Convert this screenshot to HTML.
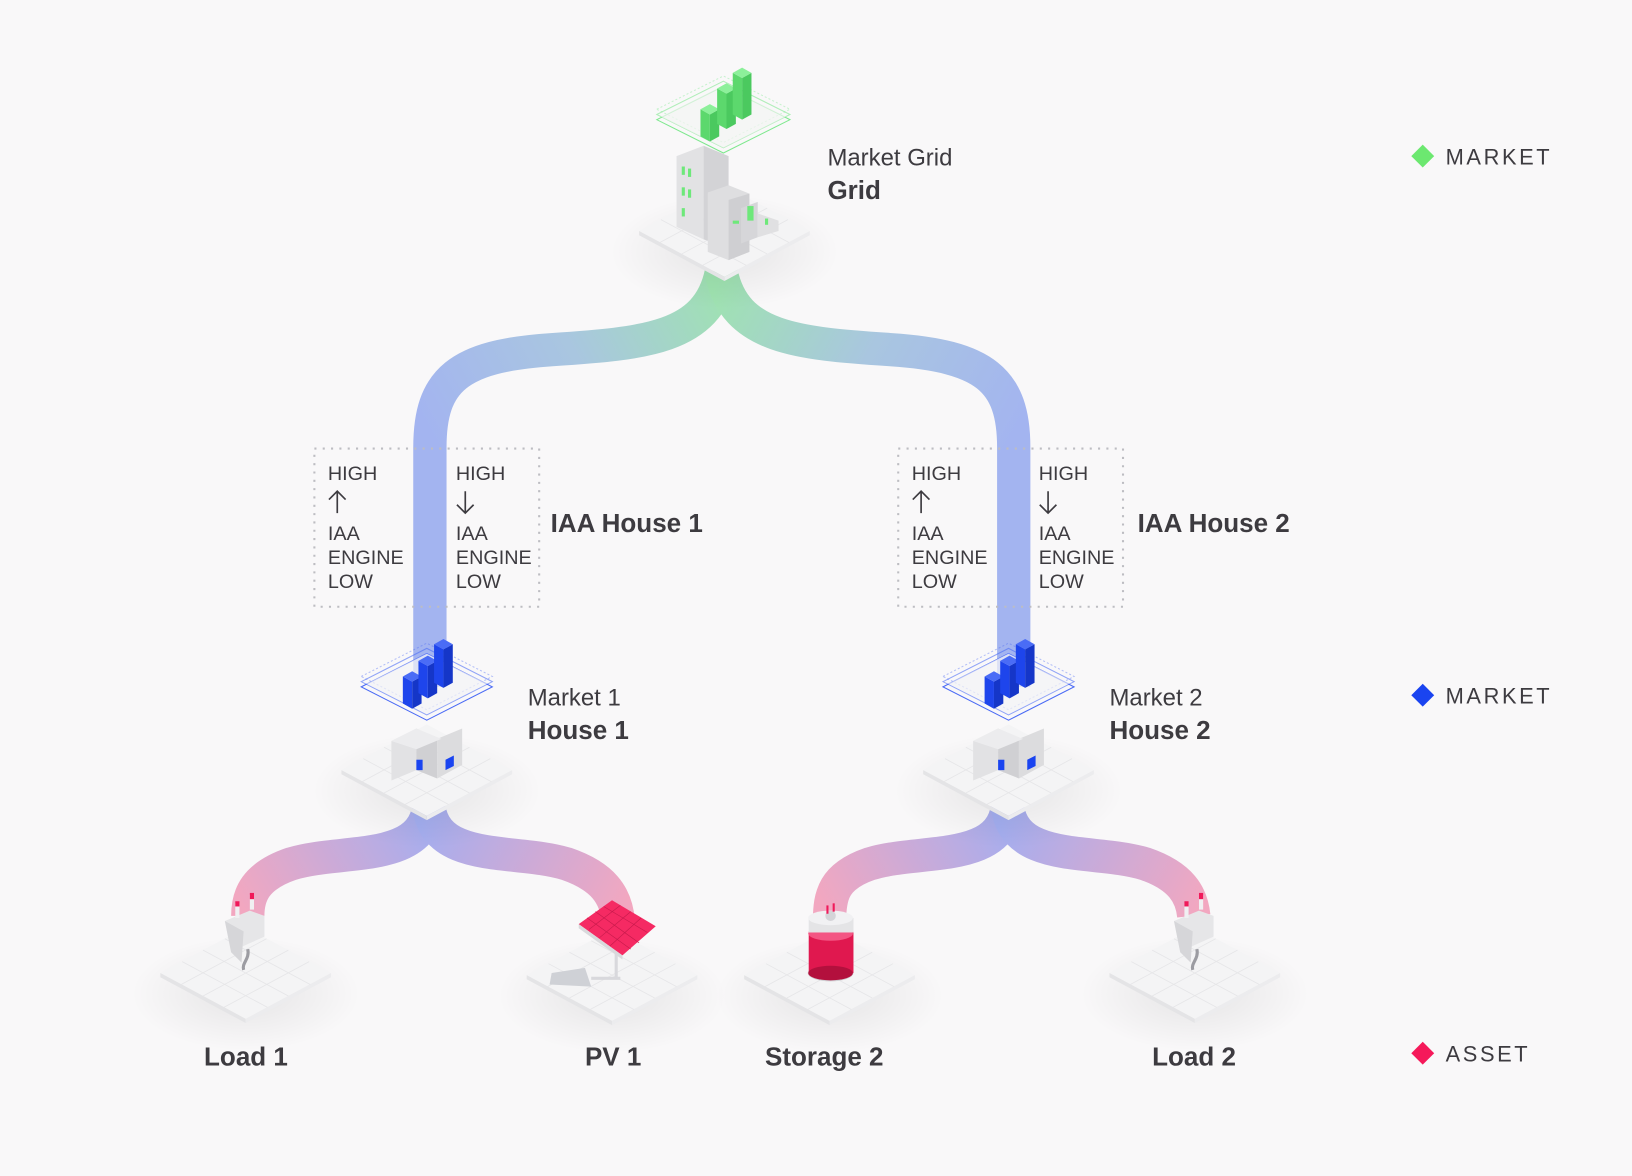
<!DOCTYPE html>
<html><head><meta charset="utf-8"><style>
html,body{margin:0;padding:0;background:#f9f8f9;}
svg{display:block;}
text{font-family:"Liberation Sans",sans-serif;fill:#3d3b40;}
</style></head><body>
<svg width="1632" height="1176" viewBox="0 0 1568 1130" xmlns="http://www.w3.org/2000/svg">
<defs>
<linearGradient id="gL" gradientUnits="userSpaceOnUse" x1="693" y1="265" x2="413" y2="420"><stop offset="0" stop-color="#9fe3b0"/><stop offset="0.5" stop-color="#a9c6e0"/><stop offset="1" stop-color="#a3b4f0"/></linearGradient>
<linearGradient id="gR" gradientUnits="userSpaceOnUse" x1="693" y1="265" x2="975" y2="420"><stop offset="0" stop-color="#9fe3b0"/><stop offset="0.5" stop-color="#a9c6e0"/><stop offset="1" stop-color="#a3b4f0"/></linearGradient>
<linearGradient id="a1" gradientUnits="userSpaceOnUse" x1="410" y1="780" x2="238" y2="880"><stop offset="0" stop-color="#a3aef0"/><stop offset="1" stop-color="#f2a7c0"/></linearGradient>
<linearGradient id="a2" gradientUnits="userSpaceOnUse" x1="410" y1="780" x2="595" y2="880"><stop offset="0" stop-color="#a3aef0"/><stop offset="1" stop-color="#f2a7c0"/></linearGradient>
<linearGradient id="a3" gradientUnits="userSpaceOnUse" x1="968" y1="780" x2="797" y2="880"><stop offset="0" stop-color="#a3aef0"/><stop offset="1" stop-color="#f2a7c0"/></linearGradient>
<linearGradient id="a4" gradientUnits="userSpaceOnUse" x1="968" y1="780" x2="1148" y2="880"><stop offset="0" stop-color="#a3aef0"/><stop offset="1" stop-color="#f2a7c0"/></linearGradient>
<radialGradient id="sh"><stop offset="0" stop-color="#000" stop-opacity="0.08"/><stop offset="1" stop-color="#000" stop-opacity="0"/></radialGradient>
<g id="plat">
 <ellipse cx="0" cy="20" rx="110" ry="55" fill="url(#sh)"/>
 <polygon points="-82,0 0,-44 82,0 0,44" fill="#f4f4f5"/>
 <polygon points="-82,0 0,44 0,48 -82,4" fill="#e4e4e6"/>
 <polygon points="82,0 0,44 0,48 82,4" fill="#ececee"/>
 <g stroke="#e6e6e8" stroke-width="0.8">
  <line x1="-61" y1="-11" x2="21" y2="33"/><line x1="-41" y1="-22" x2="41" y2="22"/><line x1="-20" y1="-33" x2="62" y2="11"/>
  <line x1="61" y1="-11" x2="-21" y2="33"/><line x1="41" y1="-22" x2="-41" y2="22"/><line x1="20" y1="-33" x2="-62" y2="11"/>
 </g>
</g>
</defs>
<rect width="1568" height="1130" fill="#f9f8f9"/>

<g fill="none" stroke-width="32">
 <path d="M693,262 C680,325 620,330 530,336 C440,342 413,365 413,430 L413,660" stroke="url(#gL)"/>
 <path d="M693,262 C706,325 766,330 856,336 C946,342 974,365 974,430 L974,660" stroke="url(#gR)"/>
</g>
<g fill="none" stroke-width="32">
 <path d="M412,775 C405,830 330,815 280,830 C245,842 238,860 238,880" stroke="url(#a1)"/>
 <path d="M412,775 C419,830 494,815 544,830 C579,842 592,860 594,885" stroke="url(#a2)"/>
 <path d="M968,775 C961,830 886,815 836,830 C801,842 797,860 797,885" stroke="url(#a3)"/>
 <path d="M968,775 C975,830 1050,815 1100,830 C1135,842 1145,860 1147,880" stroke="url(#a4)"/>
</g>

<use href="#plat" x="696" y="222"/>
<g>
 <polygon points="650,150 676,140 676,230 650,218" fill="#e2e2e4"/>
 <polygon points="676,140 700,150 700,238 676,230" fill="#d3d3d6"/>
 <polygon points="680,185 700,178 720,186 720,242 700,250 680,242" fill="#dedee0"/>
 <polygon points="700,192 720,186 720,242 700,250" fill="#cfcfd2"/>
 <polygon points="712,200 728,194 728,228 712,234" fill="#d6d6d9"/>
 <polygon points="728,205 748,212 748,222 728,228" fill="#e0e0e2"/>
 <g fill="#6ee87a"><rect x="655" y="160" width="3" height="8"/><rect x="661" y="162" width="3" height="8"/><rect x="655" y="180" width="3" height="8"/><rect x="661" y="182" width="3" height="8"/><rect x="655" y="200" width="3" height="8"/><rect x="718" y="198" width="6" height="14"/><rect x="704" y="212" width="6" height="3"/><rect x="735" y="210" width="3" height="6"/></g>
</g>
<g fill="none" stroke="#7ee88e" stroke-width="1">
 <polygon points="631,115 695,83 759,115 695,147"/>
 <polygon points="631,110 695,78 759,110 695,142" stroke-opacity="0.6"/>
 <polygon points="631,105 695,73 759,105 695,137" stroke-opacity="0.4" stroke-dasharray="2 2"/>
</g>
<polygon points="635,112 695,82 755,112 695,142" fill="#f4f5f4" opacity="0.7"/>
<g>
 <polygon points="673,105 682,110 682,136 673,131" fill="#5cd86d"/><polygon points="682,110 691,105 691,131 682,136" fill="#4bc95f"/><polygon points="673,105 682,100 691,105 682,110" fill="#8cf09a"/>
 <polygon points="689,85 698,90 698,124 689,119" fill="#5cd86d"/><polygon points="698,90 707,85 707,119 698,124" fill="#4bc95f"/><polygon points="689,85 698,80 707,85 698,90" fill="#8cf09a"/>
 <polygon points="704,70 713,75 713,115 704,110" fill="#5cd86d"/><polygon points="713,75 722,70 722,110 713,115" fill="#4bc95f"/><polygon points="704,70 713,65 722,70 713,75" fill="#8cf09a"/>
</g>
<text x="795" y="159" font-size="23">Market Grid</text>
<text x="795" y="191" font-size="25" font-weight="bold">Grid</text>

<g fill="none" stroke="#bdbdc2" stroke-width="2" stroke-dasharray="2 6">
 <rect x="302" y="431" width="216" height="152"/>
 <rect x="863" y="431" width="216" height="152"/>
</g>
<g font-size="19">
 <text x="315" y="461">HIGH</text><text x="315" y="519">IAA</text><text x="315" y="542">ENGINE</text><text x="315" y="565">LOW</text>
 <text x="438" y="461">HIGH</text><text x="438" y="519">IAA</text><text x="438" y="542">ENGINE</text><text x="438" y="565">LOW</text>
 <text x="876" y="461">HIGH</text><text x="876" y="519">IAA</text><text x="876" y="542">ENGINE</text><text x="876" y="565">LOW</text>
 <text x="998" y="461">HIGH</text><text x="998" y="519">IAA</text><text x="998" y="542">ENGINE</text><text x="998" y="565">LOW</text>
</g>
<g stroke="#3d3b40" stroke-width="1.6" fill="none">
 <path d="M324,493 V472 M316,480 L324,472 L332,480"/>
 <path d="M447,472 V493 M439,485 L447,493 L455,485"/>
 <path d="M885,493 V472 M877,480 L885,472 L893,480"/>
 <path d="M1007,472 V493 M999,485 L1007,493 L1015,485"/>
</g>
<text x="529" y="511" font-size="25" font-weight="bold">IAA House 1</text>
<text x="1093" y="511" font-size="25" font-weight="bold">IAA House 2</text>

<g id="house1">
 <use href="#plat" x="410" y="740"/>
 <polygon points="376,712 400,700 400,740 376,750" fill="#e2e2e4"/>
 <polygon points="400,700 420,710 420,748 400,740" fill="#d0d0d3"/>
 <polygon points="420,710 444,700 444,735 420,748" fill="#dcdcde"/>
 <polygon points="376,712 400,700 424,710 400,720" fill="#ececee"/>
 <rect x="400" y="730" width="6" height="10" fill="#1a44f0"/>
 <polygon points="428,730 436,726 436,736 428,740" fill="#1a44f0"/>
 <g fill="none" stroke="#4a6af5" stroke-width="1">
  <polygon points="347,660 410,628 473,660 410,692"/>
  <polygon points="347,655 410,623 473,655 410,687" stroke-opacity="0.6"/>
  <polygon points="347,650 410,618 473,650 410,682" stroke-opacity="0.4" stroke-dasharray="2 2"/>
 </g>
 <polygon points="352,657 410,628 468,657 410,686" fill="#f4f4f7" opacity="0.7"/>
 <polygon points="387,650 396,655 396,681 387,676" fill="#1e45ec"/><polygon points="396,655 405,650 405,676 396,681" fill="#1536c8"/><polygon points="387,650 396,645 405,650 396,655" fill="#4a6cf6"/>
 <polygon points="402,635 411,640 411,671 402,666" fill="#1e45ec"/><polygon points="411,640 420,635 420,666 411,671" fill="#1536c8"/><polygon points="402,635 411,630 420,635 411,640" fill="#4a6cf6"/>
 <polygon points="417,619 426,624 426,661 417,656" fill="#1e45ec"/><polygon points="426,624 435,619 435,656 426,661" fill="#1536c8"/><polygon points="417,619 426,614 435,619 426,624" fill="#4a6cf6"/>
</g>
<use href="#house1" x="559" y="0"/>
<text x="507" y="678" font-size="23">Market 1</text>
<text x="507" y="710" font-size="25" font-weight="bold">House 1</text>
<text x="1066" y="678" font-size="23">Market 2</text>
<text x="1066" y="710" font-size="25" font-weight="bold">House 2</text>

<use href="#plat" x="236" y="935"/>
<use href="#plat" x="588" y="937"/>
<use href="#plat" x="797" y="937"/>
<use href="#plat" x="1148" y="935"/>
<g id="plug">
 <polygon points="216,885 240,875 254,880 254,900 236,908 222,915" fill="#e6e6e8"/>
 <polygon points="216,885 222,915 232,925 234,895" fill="#d6d6d9"/>
 <path d="M238,912 C240,922 232,925 234,932" stroke="#9c9ca2" stroke-width="3" fill="none"/>
 <rect x="226" y="868" width="4" height="14" fill="#f0f0f2"/><rect x="226" y="866" width="4" height="5" fill="#f0195a"/>
 <rect x="240" y="860" width="4" height="14" fill="#f0f0f2"/><rect x="240" y="858" width="4" height="6" fill="#f0195a"/>
</g>
<use href="#plug" x="912" y="0"/>
<polygon points="530,935 562,930 568,948 528,946" fill="#cfd1d6"/>
<path d="M592,915 V940 M568,940 H596" stroke="#d8d8dc" stroke-width="3" fill="none"/>
<polygon points="556,888 588,865 630,890 598,918" fill="#f52a63"/>
<polygon points="556,888 598,918 598,922 556,892" fill="#d9d9dc"/>
<g stroke="#c81a4c" stroke-width="0.6"><line x1="564" y1="882" x2="606" y2="912"/><line x1="572" y1="876" x2="614" y2="906"/><line x1="580" y1="871" x2="622" y2="896"/><line x1="566" y1="893" x2="596" y2="870"/><line x1="576" y1="901" x2="606" y2="876"/><line x1="586" y1="909" x2="616" y2="882"/></g>
<ellipse cx="798" cy="935" rx="22" ry="8" fill="#d0d0d4"/>
<rect x="777" y="895" width="43" height="40" fill="#e0184f"/>
<ellipse cx="798" cy="935" rx="21.5" ry="7" fill="#b3103d"/>
<ellipse cx="798" cy="897" rx="21.5" ry="7" fill="#f35583"/>
<rect x="777" y="882" width="43" height="14" fill="#e4e4e6"/>
<ellipse cx="798" cy="882" rx="21.5" ry="7" fill="#f1f1f3"/>
<circle cx="798" cy="880" r="5" fill="#d4d4d8"/>
<rect x="794" y="870" width="2" height="8" fill="#f0195a"/><rect x="800" y="868" width="2" height="8" fill="#f0195a"/>

<g font-size="25" font-weight="bold">
 <text x="196" y="1024">Load 1</text>
 <text x="562" y="1024">PV 1</text>
 <text x="735" y="1024">Storage 2</text>
 <text x="1107" y="1024">Load 2</text>
</g>

<polygon points="1356,150 1367,139 1378,150 1367,161" fill="#6ce870"/>
<polygon points="1356,668 1367,657 1378,668 1367,679" fill="#1a44f0"/>
<polygon points="1356,1012 1367,1001 1378,1012 1367,1023" fill="#f5195a"/>
<g font-size="21" letter-spacing="2.5">
 <text x="1389" y="158">MARKET</text>
 <text x="1389" y="676">MARKET</text>
 <text x="1389" y="1020">ASSET</text>
</g>
</svg>
</body></html>
